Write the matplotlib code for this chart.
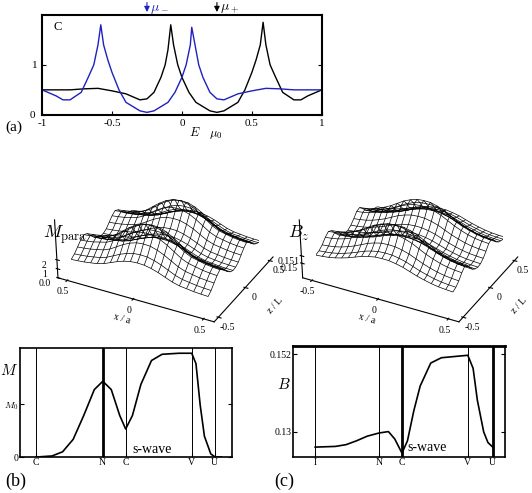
import numpy as np
import matplotlib
matplotlib.use("Agg")
import matplotlib.pyplot as plt

plt.rcParams.update({
    "font.size": 8,
    "mathtext.fontset": "cm",
    "font.family": "Liberation Serif",
})

# -------------------- DATA --------------------
# (a) spectral curves C(E)
e_black = [-1, -0.9, -0.8, -0.7, -0.6, -0.5, -0.4, -0.3, -0.25, -0.2, -0.15, -0.12, -0.1, -0.08,
           -0.06, -0.03, 0, 0.05, 0.1, 0.2, 0.25, 0.3, 0.4, 0.45, 0.5, 0.53, 0.56, 0.58, 0.6,
           0.63, 0.67, 0.72, 0.8, 0.85, 0.9, 1]
c_black = [0.5, 0.5, 0.5, 0.52, 0.53, 0.48, 0.42, 0.3, 0.32, 0.45, 0.75, 1.0, 1.3, 1.8,
           1.4, 1.0, 0.75, 0.45, 0.25, 0.08, 0.05, 0.08, 0.25, 0.5, 0.85, 1.1, 1.4, 1.85, 1.4,
           1.0, 0.75, 0.45, 0.3, 0.3, 0.38, 0.5]
e_blue = [-1, -0.9, -0.85, -0.8, -0.72, -0.67, -0.63, -0.6, -0.58, -0.56, -0.53, -0.5, -0.45,
          -0.4, -0.3, -0.25, -0.2, -0.1, -0.05, 0, 0.03, 0.06, 0.07, 0.1, 0.12, 0.15, 0.2,
          0.25, 0.3, 0.4, 0.5, 0.6, 0.7, 0.8, 0.9, 1]
c_blue = [0.5, 0.38, 0.3, 0.3, 0.45, 0.75, 1.0, 1.4, 1.8, 1.4, 1.1, 0.85, 0.5,
          0.25, 0.08, 0.05, 0.08, 0.25, 0.45, 0.75, 1.0, 1.4, 1.75, 1.3, 1.0, 0.75, 0.45,
          0.32, 0.3, 0.42, 0.48, 0.53, 0.52, 0.5, 0.5, 0.5]
mu_minus, mu_plus = -0.25, 0.25

# 3D surfaces: profiles along x/a and z/L (21 points each)
grid_x = [-0.5, -0.45, -0.4, -0.35, -0.3, -0.25, -0.2, -0.15, -0.1, -0.05, 0,
          0.05, 0.1, 0.15, 0.2, 0.25, 0.3, 0.35, 0.4, 0.45, 0.5]
grid_z = grid_x
m_prof_x = [0.95, 0.97, 1.0, 1.05, 1.1, 1.2, 1.35, 1.5, 1.62, 1.7, 1.72,
            1.7, 1.62, 1.5, 1.35, 1.2, 1.1, 1.05, 1.0, 0.97, 0.95]
m_prof_z = [0.6, 0.7, 0.85, 1.0, 1.1, 1.05, 0.9, 0.75, 0.65, 0.6, 0.62,
            0.7, 0.85, 1.0, 1.1, 1.05, 0.9, 0.78, 0.7, 0.65, 0.62]
b_prof_x = [0.9, 0.92, 0.95, 1.0, 1.07, 1.15, 1.25, 1.35, 1.42, 1.47, 1.48,
            1.47, 1.42, 1.35, 1.25, 1.15, 1.07, 1.0, 0.95, 0.92, 0.9]
b_prof_z = [0.65, 0.7, 0.8, 0.95, 1.05, 1.0, 0.85, 0.72, 0.65, 0.62, 0.64,
            0.72, 0.85, 1.0, 1.05, 0.95, 0.82, 0.74, 0.7, 0.67, 0.65]

# (b) magnetisation profile
xb = [0.76, 1.5, 2, 2.5, 3, 3.5, 3.9, 4.3, 4.7, 4.98, 5.3, 5.7, 6.2, 6.7, 7.5, 8.1, 8.3,
      8.5, 8.7, 9.0, 9.2, 9.5]
mb = [0.0, 0.01, 0.05, 0.17, 0.4, 0.65, 0.73, 0.65, 0.4, 0.27, 0.4, 0.7, 0.93, 0.99, 1.0,
      1.0, 0.9, 0.5, 0.2, 0.03, 0.0, 0.0]
b_lines = [0.76, 3.89, 4.98, 8.1, 9.19]
b_ticklabels = ["C", "N", "C", "V", "U"]

# (c) field profile
xc = [1.04, 2.0, 2.5, 3.0, 3.5, 4.06, 4.5, 4.8, 5.14, 5.4, 5.7, 6.0, 6.5, 7.0, 8.25, 8.5,
      8.7, 9.0, 9.2, 9.43]
bc = [0.1257, 0.1259, 0.1264, 0.1275, 0.1288, 0.1297, 0.1301, 0.128, 0.1240, 0.1275,
      0.1360, 0.1430, 0.1495, 0.1510, 0.1517, 0.1480, 0.1390, 0.1300, 0.1270, 0.1257]
c_lines = [1.04, 4.06, 5.14, 8.25, 9.43]
c_ticklabels = ["I", "N", "C", "V", "U"]

fig = plt.figure(figsize=(5.32, 4.93), dpi=100)

# ===================== 3D surfaces (drawn first, behind) =====================
X, Z = np.meshgrid(grid_x, grid_z)


def draw_surface(rect, px, pz, zticks, zlabels, label, xtl):
    ax = fig.add_axes(rect, projection="3d")
    ax.patch.set_alpha(0)
    S = np.outer(pz, px)
    ax.plot_wireframe(X, Z, S, color="black", lw=0.5)
    ax.set_zlim(0, S.max())
    ax.set_box_aspect((1.6, 1.3, 0.6), zoom=1.2)
    ax.view_init(elev=28, azim=-62)
    ax.grid(False)
    ax.zaxis._axinfo["juggled"] = (1, 2, 0)
    for pane in (ax.xaxis, ax.yaxis, ax.zaxis):
        pane.pane.set_visible(False)
        pane.line.set_linewidth(0.8)
    ax.set_xticks([-0.5, 0, 0.5])
    ax.set_xticklabels(xtl, fontsize=7)
    ax.set_yticks([-0.5, 0, 0.5])
    ax.set_yticklabels(["-0.5", "0", "0.5"], fontsize=7)
    ax.set_zticks(zticks)
    ax.set_zticklabels(zlabels, fontsize=7)
    ax.set_xlabel("x / a", fontsize=7, labelpad=-10)
    ax.set_ylabel("z / L", fontsize=7, labelpad=-8)
    ax.tick_params(pad=-4)
    ax.text2D(-0.15, 0.52, label, transform=ax.transAxes, fontsize=13)
    return ax


draw_surface([0.07, 0.32, 0.48, 0.38], m_prof_x, m_prof_z, [0, 0.3, 0.6],
             ["0.0", "1", "2"], r"$M_{\rm para}$", ["0.5", "0", "0.5"])
draw_surface([0.53, 0.32, 0.48, 0.38], b_prof_x, b_prof_z, [0.4, 0.6],
             ["0.15", "0.151"], r"$B_z$", ["-0.5", "0", "0.5"])

# ===================== (a) =====================
axa = fig.add_axes([0.079, 0.767, 0.526, 0.203])
axa.plot(e_black, c_black, color="black", lw=1.0)
axa.plot(e_blue, c_blue, color="#2020c0", lw=1.0)
axa.set_xlim(-1, 1)
axa.set_ylim(0, 2)
axa.set_xticks([-1, -0.5, 0, 0.5, 1])
axa.set_xticklabels(["-1", "-0.5", "0", "0.5", "1"])
axa.set_yticks([0, 1])
axa.set_yticklabels(["0 ", "1"])
axa.tick_params(direction="in", length=3, pad=3, top=False, right=True)
for s in axa.spines.values():
    s.set_linewidth(1.5)
axa.text(-0.92, 1.7, "C", fontsize=9)
axa.text(0.05, -0.42, r"$E\quad\mu_0$", fontsize=9)
axa.annotate("", xy=(mu_minus, 2.0), xytext=(mu_minus, 2.3),
             arrowprops=dict(arrowstyle="-|>", color="#2020c0", lw=0.8), annotation_clip=False)
axa.annotate("", xy=(mu_plus, 2.0), xytext=(mu_plus, 2.3),
             arrowprops=dict(arrowstyle="-|>", color="black", lw=0.8), annotation_clip=False)
axa.text(mu_minus + 0.02, 2.07, r"$\mu_-$", fontsize=10, color="#2020c0")
axa.text(mu_plus + 0.02, 2.07, r"$\mu_+$", fontsize=10)
fig.text(0.01, 0.735, "(a)", fontsize=11)

# ===================== (b) =====================
axb = fig.add_axes([0.038, 0.073, 0.398, 0.221])
axb.plot(xb, mb, color="black", lw=1.2)
for i, v in enumerate(b_lines):
    axb.axvline(v, color="black", lw=2.0 if i == 1 else 0.7)
axb.set_xlim(0, 10)
axb.set_ylim(0, 1.05)
axb.set_xticks(b_lines)
axb.set_xticklabels(b_ticklabels, fontsize=7)
axb.set_yticks([0, 0.51])
axb.set_yticklabels(["0", r"$M_0$"], fontsize=7)
axb.tick_params(direction="in", length=3, pad=1, right=True)
for s in axb.spines.values():
    s.set_linewidth(1.2)
axb.text(5.3, 0.04, "s-wave", fontsize=10)
fig.text(0.0, 0.24, r"$M$", fontsize=11)
fig.text(0.01, 0.015, "(b)", fontsize=13)

# ===================== (c) =====================
axc = fig.add_axes([0.551, 0.073, 0.398, 0.225])
axc.plot(xc, bc, color="black", lw=1.2)
for i, v in enumerate(c_lines):
    axc.axvline(v, color="black", lw=2.0 if i in (2, 4) else 0.7)
axc.set_xlim(0, 10)
axc.set_ylim(0.1229, 0.1543)
axc.set_xticks(c_lines)
axc.set_xticklabels(c_ticklabels, fontsize=7)
axc.set_yticks([0.13, 0.152])
axc.set_yticklabels(["0.13", "0.152"], fontsize=7)
axc.tick_params(direction="in", length=3, pad=1, right=True)
for s in axc.spines.values():
    s.set_linewidth(1.2)
axc.spines["top"].set_linewidth(2.0)
axc.text(5.4, 0.1245, "s-wave", fontsize=10)
fig.text(0.52, 0.21, r"$B$", fontsize=11)
fig.text(0.515, 0.015, "(c)", fontsize=13)

fig.savefig("out.png", dpi=100)
